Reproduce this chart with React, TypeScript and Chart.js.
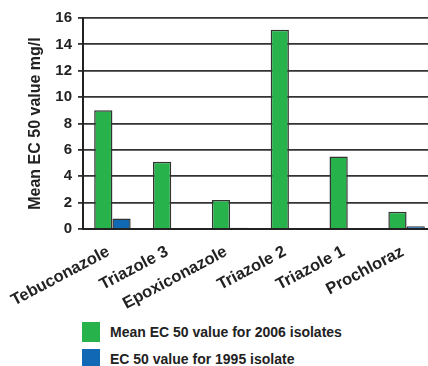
import React, { useEffect, useRef } from "react";
import { Chart, registerables } from "chart.js";

Chart.register(...registerables);

const categories = ["Tebuconazole", "Triazole 3", "Epoxiconazole", "Triazole 2", "Triazole 1", "Prochloraz"];
const mean2006 = [9.0, 5.1, 2.2, 15.1, 5.5, 1.3];
const value1995 = [0.8, 0, 0.1, 0.06, 0.06, 0.2];
const seriesNames = ["Mean EC 50 value for 2006 isolates", "EC 50 value for 1995 isolate"];
const yTitle = "Mean EC 50 value mg/l";

const GREEN = "#27b24b";
const BLUE = "#1168b4";
const LINE = "#333333";
const FONT = "'Liberation Sans', Arial, sans-serif";

export default function App() {
  const ref = useRef<HTMLCanvasElement>(null);
  useEffect(() => {
    const chart = new Chart(ref.current!, {
      type: "bar",
      data: {
        labels: categories,
        datasets: [
          { label: seriesNames[0], data: mean2006, backgroundColor: GREEN, borderColor: LINE, borderWidth: 1.5 },
          { label: seriesNames[1], data: value1995, backgroundColor: BLUE, borderColor: LINE, borderWidth: 1.5 },
        ],
      },
      options: {
        animation: false,
        responsive: true,
        maintainAspectRatio: false,
        layout: { padding: { top: 18, right: 0, left: 0, bottom: 0 } },
        datasets: { bar: { categoryPercentage: 0.62, barPercentage: 1 } },
        plugins: { legend: { display: false }, tooltip: { enabled: false } },
        scales: {
          x: {
            grid: { display: false, drawTicks: false },
            border: { display: true, color: "#222", width: 2 },
            ticks: {
              autoSkip: false,
              minRotation: 28,
              maxRotation: 28,
              padding: 13,
              labelOffset: -4,
              color: "#222",
              font: { family: FONT, size: 16.5, weight: "bold" },
            },
            afterFit: (s: any) => { s.height = 81; s.paddingLeft = 0; s.paddingRight = 0; },
          },
          y: {
            min: 0,
            max: 16,
            ticks: { stepSize: 2, padding: 6, color: "#222", font: { family: FONT, size: 15, weight: "bold" } },
            grid: { color: LINE, lineWidth: 1.8, tickLength: 5, tickColor: LINE, tickWidth: 1.8 },
            border: { display: true, color: "#222", width: 2 },
            title: {
              display: true,
              text: yTitle,
              color: "#222",
              font: { family: FONT, size: 16, weight: "bold" },
              padding: { top: 26, bottom: 0 },
            },
            afterFit: (s: any) => { s.width = 83; },
          },
        },
      },
    });
    return () => chart.destroy();
  }, []);

  const legendRow = (color: string, text: string, top: number) => (
    <div style={{ position: "absolute", left: 82, top, height: 20, display: "flex", alignItems: "center" }}>
      <div style={{ width: 18, height: 20, background: color }} />
      <span style={{ marginLeft: 10, fontFamily: FONT, fontWeight: "bold", fontSize: 14, color: "#222", whiteSpace: "nowrap" }}>{text}</span>
    </div>
  );

  return (
    <div style={{ position: "absolute", left: 0, top: 0, width: 428, height: 366, overflow: "hidden", background: "#fff" }}>
      <div style={{ position: "absolute", left: 0, top: 0, width: 436, height: 310 }}>
        <canvas ref={ref} />
      </div>
      {legendRow(GREEN, seriesNames[0], 322)}
      {legendRow(BLUE, seriesNames[1], 349)}
    </div>
  );
}
